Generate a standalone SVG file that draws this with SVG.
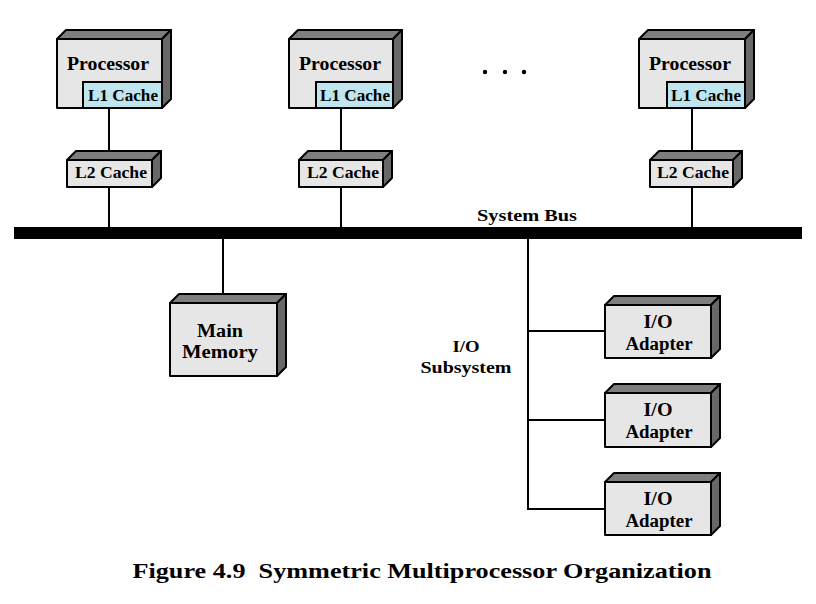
<svg xmlns="http://www.w3.org/2000/svg" width="816" height="604" viewBox="0 0 816 604">
<style>
.front{fill:#e6e6e6;stroke:#000;stroke-width:2;stroke-linejoin:round}
.top{fill:#7e7e7e;stroke:#000;stroke-width:2;stroke-linejoin:round}
.side{fill:#686868;stroke:#000;stroke-width:2;stroke-linejoin:round}
.l1{fill:#bfe5ee;stroke:#000;stroke-width:2}
.wire{stroke:#000;stroke-width:2;fill:none}
text{font-family:"Liberation Serif","Times New Roman",serif;font-weight:bold;fill:#000;text-anchor:middle}
.t18{font-size:18px}
.t16{font-size:16px}
.t17{font-size:17px}
</style>
<rect width="816" height="604" fill="#fff"/>
<g id="connectors">
<rect x="14" y="227" width="788" height="12" fill="#000"/>
<line class="wire" x1="109" y1="108" x2="109" y2="152"/>
<line class="wire" x1="341" y1="108" x2="341" y2="152"/>
<line class="wire" x1="692" y1="108" x2="692" y2="152"/>
<line class="wire" x1="109" y1="187" x2="109" y2="227"/>
<line class="wire" x1="341" y1="187" x2="341" y2="227"/>
<line class="wire" x1="692" y1="187" x2="692" y2="227"/>
<line class="wire" x1="223" y1="239" x2="223" y2="295"/>
<polyline class="wire" points="528,239 528,509 605,509"/>
<line class="wire" x1="528" y1="331" x2="605" y2="331"/>
<line class="wire" x1="528" y1="420" x2="605" y2="420"/>
</g>
<g id="proc1">
<path class="top" d="M57,39 L66,30 L171,30 L162,39 Z"/>
<path class="side" d="M162,39 L171,30 L171,99 L162,108 Z"/>
<rect class="front" x="57" y="39" width="105" height="69"/>
<rect class="l1" x="83" y="82" width="79" height="26"/>
<text class="t18" x="108" y="70" textLength="82" lengthAdjust="spacingAndGlyphs">Processor</text>
<text class="t16" x="123" y="101" textLength="70" lengthAdjust="spacingAndGlyphs">L1 Cache</text>
</g>
<g id="proc2">
<path class="top" d="M289,39 L298,30 L402,30 L393,39 Z"/>
<path class="side" d="M393,39 L402,30 L402,99 L393,108 Z"/>
<rect class="front" x="289" y="39" width="104" height="69"/>
<rect class="l1" x="316" y="82" width="77" height="26"/>
<text class="t18" x="340" y="70" textLength="82" lengthAdjust="spacingAndGlyphs">Processor</text>
<text class="t16" x="355" y="101" textLength="70" lengthAdjust="spacingAndGlyphs">L1 Cache</text>
</g>
<g id="proc3">
<path class="top" d="M639,39 L648,30 L754,30 L745,39 Z"/>
<path class="side" d="M745,39 L754,30 L754,99 L745,108 Z"/>
<rect class="front" x="639" y="39" width="106" height="69"/>
<rect class="l1" x="667" y="82" width="78" height="26"/>
<text class="t18" x="690" y="70" textLength="82" lengthAdjust="spacingAndGlyphs">Processor</text>
<text class="t16" x="706" y="101" textLength="70" lengthAdjust="spacingAndGlyphs">L1 Cache</text>
</g>
<g id="dots">
<circle cx="485" cy="72" r="2.2" fill="#000"/>
<circle cx="505" cy="72" r="2.2" fill="#000"/>
<circle cx="524" cy="72" r="2.2" fill="#000"/>
</g>
<g id="l2a">
<path class="top" d="M67,160 L76,151 L161,151 L152,160 Z"/>
<path class="side" d="M152,160 L161,151 L161,178 L152,187 Z"/>
<rect class="front" x="67" y="160" width="85" height="27"/>
<text class="t16" x="111" y="178" textLength="72" lengthAdjust="spacingAndGlyphs">L2 Cache</text>
</g>
<g id="l2b">
<path class="top" d="M299,160 L308,151 L392,151 L383,160 Z"/>
<path class="side" d="M383,160 L392,151 L392,178 L383,187 Z"/>
<rect class="front" x="299" y="160" width="84" height="27"/>
<text class="t16" x="343" y="178" textLength="72" lengthAdjust="spacingAndGlyphs">L2 Cache</text>
</g>
<g id="l2c">
<path class="top" d="M650,160 L659,151 L742,151 L733,160 Z"/>
<path class="side" d="M733,160 L742,151 L742,178 L733,187 Z"/>
<rect class="front" x="650" y="160" width="83" height="27"/>
<text class="t16" x="693" y="178" textLength="72" lengthAdjust="spacingAndGlyphs">L2 Cache</text>
</g>
<g id="bus-label">
<text class="t17" x="527" y="221" textLength="100" lengthAdjust="spacingAndGlyphs">System Bus</text>
</g>
<g id="memory">
<path class="top" d="M170,303 L179,294 L286,294 L277,303 Z"/>
<path class="side" d="M277,303 L286,294 L286,367 L277,376 Z"/>
<rect class="front" x="170" y="303" width="107" height="73"/>
<text class="t18" x="220" y="337" textLength="46" lengthAdjust="spacingAndGlyphs">Main</text>
<text class="t18" x="220" y="358" textLength="76" lengthAdjust="spacingAndGlyphs">Memory</text>
</g>
<g id="io-label">
<text class="t17" x="466" y="352" textLength="27" lengthAdjust="spacingAndGlyphs">I/O</text>
<text class="t17" x="466" y="373" textLength="91" lengthAdjust="spacingAndGlyphs">Subsystem</text>
</g>
<g id="io1">
<path class="top" d="M605,305 L614,296 L720,296 L711,305 Z"/>
<path class="side" d="M711,305 L720,296 L720,349 L711,358 Z"/>
<rect class="front" x="605" y="305" width="106" height="53"/>
<text class="t18" x="658" y="328" textLength="29" lengthAdjust="spacingAndGlyphs">I/O</text>
<text class="t18" x="659" y="350" textLength="67" lengthAdjust="spacingAndGlyphs">Adapter</text>
</g>
<g id="io2">
<path class="top" d="M605,393 L614,384 L720,384 L711,393 Z"/>
<path class="side" d="M711,393 L720,384 L720,438 L711,447 Z"/>
<rect class="front" x="605" y="393" width="106" height="54"/>
<text class="t18" x="658" y="416" textLength="29" lengthAdjust="spacingAndGlyphs">I/O</text>
<text class="t18" x="659" y="438" textLength="67" lengthAdjust="spacingAndGlyphs">Adapter</text>
</g>
<g id="io3">
<path class="top" d="M605,482 L614,473 L720,473 L711,482 Z"/>
<path class="side" d="M711,482 L720,473 L720,526 L711,535 Z"/>
<rect class="front" x="605" y="482" width="106" height="53"/>
<text class="t18" x="658" y="505" textLength="29" lengthAdjust="spacingAndGlyphs">I/O</text>
<text class="t18" x="659" y="527" textLength="67" lengthAdjust="spacingAndGlyphs">Adapter</text>
</g>
<g id="caption">
<text x="422" y="578" style="font-size:22px;white-space:pre" textLength="579" lengthAdjust="spacingAndGlyphs">Figure 4.9  Symmetric Multiprocessor Organization</text>
</g>
</svg>
